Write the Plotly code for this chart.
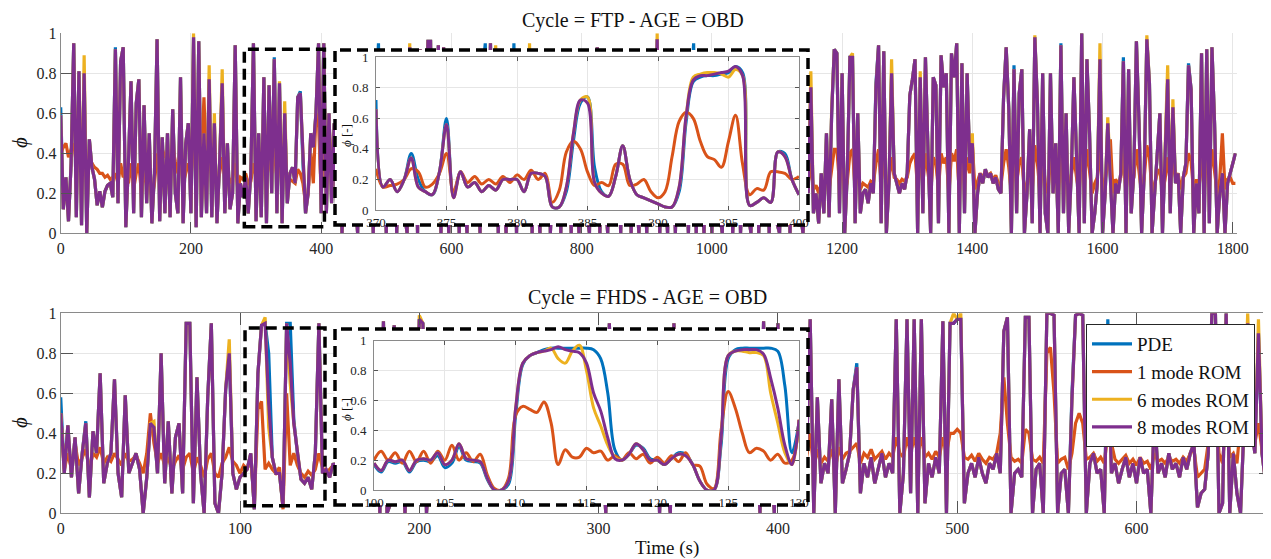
import numpy as np
import plotly.graph_objects as go

# The page places the figure 8 px in from the top-left corner, so the figure is
# laid out in screen pixels minus that offset.
SCREEN_W, SCREEN_H, OFF = 1271, 559, 8
W, H = SCREEN_W - OFF, SCREEN_H - OFF
FONT = "Liberation Serif"
C_PDE, C_1, C_6, C_8 = "#0072BD", "#D95319", "#EDB120", "#7E2F8E"
names = ["PDE", "1 mode ROM", "6 modes ROM", "8 modes ROM"]
colors = [C_PDE, C_1, C_6, C_8]

# ---------------- FTP cycle, phi in percent, sampled every 4 s ----------------
ftp_step = 4
ftp_pde = [
63,12,28,6,35,95,8,81,4,80,0,47,33,27,14,21,13,21,24,25,18,93,15,86,93,
3,35,76,10,65,77,8,64,15,50,5,30,97,6,48,10,50,8,62,20,10,78,5,45,55,
10,98,3,96,8,50,10,77,8,55,5,35,75,10,45,12,20,94,5,25,18,28,10,30,95,
6,50,8,78,5,74,20,88,10,75,5,60,15,30,33,25,68,71,35,10,20,50,43,60,95,
10,95,10,60,15,55,10,70,0,40,85,5,60,20,0,75,30,90,5,45,0,65,95,10,50,
0,80,25,60,0,40,88,10,0,93,20,70,0,92,15,50,96,96,5,60,94,0,93,30,0,
70,25,85,0,50,20,0,65,90,10,40,0,80,95,20,95,5,92,0,55,25,0,70,30,95,
0,60,20,85,5,92,0,45,20,0,75,35,90,0,30,20,60,0,80,15,50,0,88,25,0,
40,70,10,0,85,30,93,0,55,20,0,75,90,5,45,0,65,25,85,0,40,20,0,70,30,
0,80,92,10,97,0,50,25,0,85,40,0,60,90,5,35,0,70,95,0,45,20,0,80,30,
0,65,88,10,0,50,25,85,0,40,70,0,30,90,10,0,55,80,0,35,20,75,0,45,90,
5,0,60,30,85,0,40,22,70,10,0,35,20,73,10,20,5,30,10,50,8,60,92,90,10,
80,0,30,88,88,5,60,10,20,22,15,25,20,75,94,5,91,0,25,80,30,25,20,25,22,
30,69,77,87,0,78,10,88,40,0,78,74,5,89,73,80,0,90,78,95,0,85,10,80,35,
45,0,20,30,25,32,28,30,25,28,22,20,68,93,62,0,84,10,70,82,0,20,52,5,98,
65,0,80,10,0,80,20,45,0,95,10,60,0,30,78,40,0,100,5,87,50,0,10,25,87,
0,20,55,30,0,25,20,30,88,0,82,10,30,96,55,0,30,97,75,0,20,35,60,0,38,
77,10,63,25,30,0,28,35,85,72,0,25,10,90,0,92,5,93,55,0,20,30,0,25,30,
35,40]
ftp_1mode = [
40,43,45,38,42,45,35,44,30,40,25,38,35,33,32,30,30,28,29,27,28,30,25,35,28,
30,25,35,22,30,35,20,30,25,28,18,25,40,30,42,38,40,35,43,36,30,38,25,30,35,
28,45,40,50,35,68,30,40,28,35,25,30,38,28,30,25,28,35,22,28,27,30,25,26,35,
28,30,25,40,27,38,30,42,28,38,25,35,25,27,26,25,32,30,25,15,20,40,25,60,55,
20,45,25,55,30,40,25,35,20,30,40,22,32,25,20,35,28,42,22,30,20,33,45,25,30,
20,38,28,32,20,28,42,25,20,45,28,35,20,44,25,30,45,45,22,32,44,20,43,28,20,
35,28,40,20,30,25,20,33,42,25,28,20,38,45,27,45,22,43,20,30,27,20,35,28,45,
20,32,25,40,22,44,20,28,25,20,36,28,42,20,28,25,32,20,38,25,30,20,42,28,20,
28,35,22,20,40,30,44,20,32,25,20,36,42,22,28,20,33,27,40,20,28,25,20,35,28,
20,38,44,25,48,20,30,27,20,40,28,20,32,42,22,27,20,35,45,20,28,25,20,38,28,
20,33,42,25,20,30,27,40,20,28,35,20,27,42,25,20,30,38,20,27,25,36,20,28,42,
25,20,32,28,40,20,27,25,35,22,20,25,25,35,22,24,20,25,22,30,22,32,42,42,25,
38,20,26,40,42,22,32,22,25,24,23,26,25,35,42,25,42,20,27,38,28,27,25,27,26,
28,35,38,40,22,38,25,40,30,20,38,35,22,40,35,38,20,40,36,42,20,40,25,38,30,
45,22,26,30,28,31,29,30,27,29,25,24,35,42,33,20,38,25,35,38,20,25,30,22,44,
35,20,38,25,20,38,27,30,20,42,25,32,20,28,38,28,20,45,25,42,30,20,25,28,42,
22,27,35,47,20,27,25,28,40,20,38,25,28,42,32,20,28,44,38,20,25,30,32,20,27,
38,25,35,28,30,22,28,30,40,36,20,27,22,42,20,42,25,42,32,20,27,50,22,27,28,
25,25]
ftp_6modes = [
59,12,28,6,35,95,8,81,4,89,0,47,33,27,14,21,13,21,24,25,18,92,15,86,93,
3,35,76,10,65,77,8,64,15,50,5,30,97,6,48,10,50,8,62,20,10,78,5,45,55,
10,100,3,96,8,50,10,84,8,60,5,35,82,10,45,12,20,94,5,25,18,28,10,30,95,
6,50,8,78,5,74,20,87,10,76,5,66,15,30,33,25,68,70,35,10,20,50,43,60,95,
10,95,10,60,15,55,10,70,0,40,85,5,60,20,0,75,30,90,5,45,0,65,90,10,50,
0,80,25,60,0,40,88,10,0,95,20,70,0,92,15,50,96,96,5,60,94,0,93,30,0,
70,25,85,0,50,20,0,65,90,10,40,0,80,90,20,95,5,94,0,55,25,0,70,30,88,
0,60,20,85,5,95,0,45,20,0,75,35,90,0,30,20,60,0,80,15,50,0,88,25,0,
40,70,10,0,85,30,93,0,55,20,0,75,90,5,45,0,65,25,85,0,40,20,0,70,30,
0,80,92,10,100,0,50,25,0,85,40,0,60,90,5,35,0,70,88,0,45,20,0,80,30,
0,65,88,10,0,50,25,85,0,40,70,0,30,90,10,0,55,80,0,35,20,75,0,45,90,
5,0,60,30,85,0,40,22,70,10,0,35,20,81,10,20,5,30,10,50,8,62,92,90,10,
80,0,30,88,90,5,60,10,20,22,15,25,20,73,94,5,91,0,25,87,30,25,20,25,22,
30,69,77,87,0,81,10,88,40,0,78,74,5,89,73,80,0,90,78,95,0,85,10,80,35,
50,0,20,30,25,32,28,30,25,28,22,20,68,93,62,0,82,10,70,82,0,20,52,5,99,
65,0,80,10,0,80,20,45,0,94,10,60,0,30,78,40,0,100,5,87,50,0,10,25,95,
0,20,58,30,0,25,20,30,86,0,82,10,30,96,55,0,30,99,75,0,20,35,60,0,38,
84,10,67,25,30,0,28,35,84,72,0,25,10,90,0,92,5,93,55,0,20,30,0,25,30,
35,40]
ftp_8modes = [
59,12,28,6,35,95,8,81,4,80,0,47,33,27,14,21,13,21,24,25,18,92,15,86,93,
3,35,76,10,65,77,8,64,15,50,5,30,97,6,48,10,50,8,62,20,10,78,5,45,55,
10,98,3,96,8,50,10,77,8,55,5,35,75,10,45,12,20,94,5,25,18,28,10,30,95,
6,50,8,78,5,74,20,87,10,75,5,60,15,30,33,25,68,70,35,10,20,50,43,60,95,
10,95,10,60,15,55,10,70,0,40,85,5,60,20,0,75,30,90,5,45,0,65,90,10,50,
0,80,25,60,0,40,88,10,0,93,20,70,0,92,15,50,96,96,5,60,94,0,93,30,0,
70,25,85,0,50,20,0,65,90,10,40,0,80,90,20,95,5,92,0,55,25,0,70,30,88,
0,60,20,85,5,92,0,45,20,0,75,35,90,0,30,20,60,0,80,15,50,0,88,25,0,
40,70,10,0,85,30,93,0,55,20,0,75,90,5,45,0,65,25,85,0,40,20,0,70,30,
0,80,92,10,97,0,50,25,0,85,40,0,60,90,5,35,0,70,88,0,45,20,0,80,30,
0,65,88,10,0,50,25,85,0,40,70,0,30,90,10,0,55,80,0,35,20,75,0,45,90,
5,0,60,30,85,0,40,22,70,10,0,35,20,73,10,20,5,30,10,50,8,60,92,90,10,
80,0,30,88,88,5,60,10,20,22,15,25,20,73,94,5,91,0,25,80,30,25,20,25,22,
30,69,77,87,0,78,10,88,40,0,78,74,5,89,73,80,0,90,78,95,0,85,10,80,35,
45,0,20,30,25,32,28,30,25,28,22,20,68,93,62,0,82,10,70,82,0,20,52,5,98,
65,0,80,10,0,80,20,45,0,94,10,60,0,30,78,40,0,100,5,87,50,0,10,25,87,
0,20,55,30,0,25,20,30,86,0,82,10,30,96,55,0,30,97,75,0,20,35,60,0,38,
77,10,63,25,30,0,28,35,84,72,0,25,10,90,0,92,5,93,55,0,20,30,0,25,30,
35,40]

# FTP zoom 370-400 s, every 0.5 s
ftp_zoom_start, ftp_zoom_step = 370, 0.5
ftpz_pde = [72,15,20,12,20,37,20,12,10,25,60,10,25,15,18,12,16,13,20,20,20,12,24,24,22,2,2,12,45,70,
            74,28,12,9,22,42,20,10,8,6,4,2,2,12,58,84,87,88,88,89,90,94,90,3,5,8,5,38,37,20,10]
ftpz_1mode = [27,15,16,17,20,27,25,15,17,24,37,12,25,18,22,17,20,17,22,18,23,20,26,20,24,5,13,38,45,40,
              25,16,18,16,30,30,16,17,20,12,8,12,35,58,64,60,45,35,33,28,45,62,30,10,14,13,25,25,24,20,22]
ftpz_6modes = [66,15,20,12,20,34,15,12,10,25,56,8,25,15,18,12,16,13,20,20,20,12,24,24,22,2,2,15,50,72,
               74,18,11,9,22,42,20,10,8,6,4,2,2,15,62,87,89,90,90,89,87,92,88,3,5,8,5,38,35,20,10]
ftpz_8modes = [66,15,20,12,20,34,15,12,10,25,56,8,25,15,18,12,16,13,20,20,20,12,24,24,22,2,2,15,50,72,
               70,18,11,9,22,42,20,10,8,6,4,2,2,15,62,85,88,88,89,90,91,94,88,3,5,8,5,38,35,20,10]

# ---------------- FHDS cycle, phi in percent, sampled every 2 s ----------------
fhds_step = 2
fhds_pde = [
58,20,44,18,38,10,30,46,8,41,30,70,15,25,30,67,20,8,59,20,25,30,22,0,18,
45,43,20,80,15,46,10,38,45,10,95,95,5,68,20,0,58,95,5,0,20,62,80,20,12,
18,20,22,30,2,70,94,95,80,28,20,20,3,95,95,47,30,17,15,18,12,30,95,20,22,
18,25,22,30,15,40,20,55,10,25,60,15,30,70,0,96,0,5,94,20,45,0,30,60,20,
97,95,0,25,20,35,70,15,22,85,10,25,20,50,18,22,90,88,15,20,25,18,22,60,10,
25,20,23,75,20,18,22,25,40,15,20,80,90,20,15,25,20,22,55,10,20,25,18,70,20,
25,30,0,95,20,22,25,18,40,20,24,65,15,22,20,25,60,0,50,15,0,95,20,22,18,
25,20,45,15,22,80,85,15,20,25,18,22,30,20,70,10,25,20,22,40,0,96,20,30,0,
95,20,25,18,22,40,15,25,30,97,0,58,15,25,20,57,0,67,15,22,30,62,75,10,25,
18,28,15,22,30,18,25,20,97,0,20,97,10,97,0,97,5,25,18,28,20,96,0,95,95,
97,97,5,20,25,18,28,20,15,25,22,30,20,91,98,0,20,22,18,98,98,0,22,25,0,
100,100,99,0,20,22,0,60,99,100,99,0,25,30,20,22,0,97,20,25,15,22,28,18,25,
15,28,20,22,0,50,20,25,18,30,22,25,18,28,22,30,35,3,10,12,30,100,100,0,5,
100,0,30,10,0,45,95,45,30,90,30,15,20]
fhds_1mode = [
50,22,30,22,35,24,28,32,22,30,28,33,25,28,26,30,27,24,30,26,27,29,25,20,30,
50,35,25,30,24,28,22,26,29,22,28,30,20,28,24,18,27,30,20,18,25,28,33,26,24,
20,24,22,28,5,52,56,22,25,22,20,23,2,60,24,30,24,20,18,21,19,22,30,23,20,
22,24,25,27,22,30,25,33,22,26,32,24,27,35,20,40,25,22,40,26,30,20,27,32,25,
45,42,20,26,24,28,35,23,25,38,22,26,24,30,23,25,42,40,24,25,27,23,25,32,22,
27,24,26,36,24,23,25,27,29,22,25,38,42,25,22,27,24,25,31,22,25,27,23,34,24,
27,28,20,42,25,24,27,23,28,24,26,33,23,25,24,27,32,20,30,23,20,42,26,25,23,
27,24,29,22,25,38,40,24,25,27,23,25,28,24,34,22,27,24,25,29,20,42,26,28,20,
42,25,27,23,25,29,22,26,28,40,22,32,25,28,26,32,22,33,27,30,31,33,35,25,30,
28,32,27,29,31,27,30,28,38,30,28,38,30,38,30,38,28,30,27,31,28,38,30,40,40,
42,40,28,27,29,26,30,27,25,28,27,30,40,68,45,28,26,27,25,42,40,27,26,28,25,
80,83,60,25,27,28,22,30,45,50,45,27,28,30,26,28,25,40,35,27,25,27,29,25,27,
24,28,25,26,22,30,26,27,25,28,26,27,25,28,26,30,32,18,20,22,35,55,58,30,25,
50,28,30,25,45,60,55,40,35,45,30,18,22]
fhds_6modes = [
50,20,44,18,38,10,30,45,8,41,30,70,15,25,30,67,20,8,59,20,25,30,22,0,18,
45,46,20,80,15,46,10,38,45,10,95,95,5,68,20,0,58,95,5,0,20,62,87,20,12,
18,20,22,30,2,70,94,98,43,28,20,20,3,95,65,45,30,17,15,18,12,30,95,20,22,
18,25,22,30,15,40,20,55,10,25,60,15,30,70,0,96,0,5,94,20,45,0,30,60,20,
99,95,0,25,20,35,70,15,22,85,10,25,20,50,18,22,90,88,15,20,25,18,22,60,10,
25,20,23,75,20,18,22,25,40,15,20,80,90,20,15,25,20,22,55,10,20,25,18,70,20,
25,30,0,95,20,22,25,18,40,20,24,65,15,22,20,25,60,0,50,15,0,95,20,22,18,
25,20,45,15,22,80,85,15,20,25,18,22,30,20,70,10,25,20,22,40,0,96,20,30,0,
95,20,25,18,22,40,15,25,30,97,0,58,15,25,20,57,0,67,15,22,30,62,73,10,25,
18,28,15,22,30,18,25,20,97,0,20,97,10,97,0,97,5,25,18,28,20,96,0,95,100,
97,100,5,20,25,18,28,20,15,25,22,30,20,91,98,0,20,22,18,98,98,0,22,25,0,
100,100,99,0,20,22,0,57,99,100,99,0,25,30,20,22,0,88,20,25,15,22,28,18,25,
15,28,20,22,0,50,20,25,18,30,22,25,18,28,22,30,35,3,10,12,30,100,100,0,5,
100,0,30,10,0,45,100,45,30,97,30,15,20]
fhds_8modes = [
50,20,44,18,38,10,30,45,8,41,30,70,15,25,30,67,20,8,59,20,25,30,22,0,18,
45,43,20,80,15,46,10,38,45,10,95,95,5,68,20,0,58,95,5,0,20,62,80,20,12,
18,20,22,30,2,70,94,95,55,28,20,20,3,95,75,45,30,17,15,18,12,30,95,20,22,
18,25,22,30,15,40,20,55,10,25,60,15,30,70,0,96,0,5,94,20,45,0,30,60,20,
97,95,0,25,20,35,70,15,22,85,10,25,20,50,18,22,90,88,15,20,25,18,22,60,10,
25,20,23,75,20,18,22,25,40,15,20,80,90,20,15,25,20,22,55,10,20,25,18,70,20,
25,30,0,95,20,22,25,18,40,20,24,65,15,22,20,25,60,0,50,15,0,95,20,22,18,
25,20,45,15,22,80,85,15,20,25,18,22,30,20,70,10,25,20,22,40,0,96,20,30,0,
95,20,25,18,22,40,15,25,30,97,0,58,15,25,20,57,0,67,15,22,30,62,73,10,25,
18,28,15,22,30,18,25,20,97,0,20,97,10,97,0,97,5,25,18,28,20,96,0,95,95,
97,97,5,20,25,18,28,20,15,25,22,30,20,91,98,0,20,22,18,98,98,0,22,25,0,
100,100,99,0,20,22,0,57,99,100,99,0,25,30,20,22,0,88,20,25,15,22,28,18,25,
15,28,20,22,0,50,20,25,18,30,22,25,18,28,22,30,35,3,10,12,30,100,100,0,5,
100,0,30,10,0,45,95,45,30,90,30,15,20]

# FHDS zoom 100-130 s, every 0.5 s
fhds_zoom_start, fhds_zoom_step = 100, 0.5
fhdsz_pde = [17,12,19,18,19,12,19,20,19,23,15,18,29,20,19,18,7,0,0,4,50,84,90,92,94,95,95,95,95,95,
             95,94,88,65,27,20,24,30,28,21,20,17,21,25,24,17,6,0,0,30,88,94,95,95,95,95,95,93,70,25,45]
fhdsz_1mode = [20,26,20,25,18,26,19,26,18,26,20,30,20,25,19,24,10,1,0,8,50,56,54,52,59,45,17,27,22,22,
               28,25,26,20,23,20,25,21,24,18,22,18,23,19,25,17,16,4,1,40,66,55,38,25,28,26,20,24,18,20,47]
fhdsz_6modes = [18,13,20,19,20,13,20,21,20,25,17,20,31,21,20,19,8,0,0,6,55,85,90,92,93,95,88,85,93,97,
                80,55,43,30,22,20,24,31,27,20,20,17,21,24,23,17,6,0,0,35,90,93,93,92,92,90,65,45,25,17,47]
fhdsz_8modes = [18,13,20,19,20,13,20,21,20,25,17,20,31,21,20,19,8,0,0,6,55,85,90,92,93,94,96,94,93,92,
                85,65,53,35,21,20,24,31,27,20,20,17,21,24,23,17,6,0,0,35,90,93,94,94,94,91,75,55,30,17,47]

for arr in (ftp_pde, ftp_1mode, ftp_6modes, ftp_8modes):
    assert len(arr) == 452, len(arr)
for arr in (fhds_pde, fhds_1mode, fhds_6modes, fhds_8modes):
    assert len(arr) == 338, len(arr)
for arr in (ftpz_pde, ftpz_1mode, ftpz_6modes, ftpz_8modes, fhdsz_pde, fhdsz_1mode, fhdsz_6modes, fhdsz_8modes):
    assert len(arr) == 61, len(arr)

ftp_ticks = list(range(0, 1801, 200))
fhds_ticks = list(range(0, 601, 100))
ftpz_ticks = list(range(370, 401, 5))
fhdsz_ticks = list(range(100, 131, 5))
phi_ticks = [0, 0.2, 0.4, 0.6, 0.8, 1]


def px(v):
    """screen x pixel -> paper fraction"""
    return (v - OFF) / W


def py(v):
    """screen y pixel -> paper fraction"""
    return 1 - (v - OFF) / H


fig = go.Figure()


def add_group(t0, step, arrays, xa, ya, width, shape="linear", legend=False):
    for name, color, arr in zip(names, colors, arrays):
        t = t0 + step * np.arange(len(arr))
        fig.add_trace(go.Scatter(
            x=t, y=np.asarray(arr) / 100.0, mode="lines", name=name,
            line=dict(color=color, width=width, shape=shape),
            showlegend=legend, xaxis=xa, yaxis=ya, hoverinfo="skip"))


add_group(0, ftp_step, [ftp_pde, ftp_1mode, ftp_6modes, ftp_8modes], "x", "y", 3.2)
add_group(0, fhds_step, [fhds_pde, fhds_1mode, fhds_6modes, fhds_8modes], "x2", "y2", 3.2, legend=True)
# white backing subplots for the magnified panels
for xa, ya in (("x3", "y3"), ("x4", "y4")):
    fig.add_trace(go.Scatter(x=[], y=[], xaxis=xa, yaxis=ya, showlegend=False, hoverinfo="skip"))
add_group(ftp_zoom_start, ftp_zoom_step, [ftpz_pde, ftpz_1mode, ftpz_6modes, ftpz_8modes], "x5", "y5", 3, shape="spline")
add_group(fhds_zoom_start, fhds_zoom_step, [fhdsz_pde, fhdsz_1mode, fhdsz_6modes, fhdsz_8modes], "x6", "y6", 3, shape="spline")

tickfont = dict(family=FONT, size=16, color="#262626")
small_tickfont = dict(family=FONT, size=13, color="#262626")
base = dict(showgrid=True, gridcolor="#e6e6e6", gridwidth=1, zeroline=False,
            showline=True, linecolor="#8a8a8a", linewidth=1, ticks="inside",
            tickcolor="#555555", tickwidth=1, automargin=False)

top_y = [py(233.3), py(33.3)]
bot_y = [py(513.3), py(313.3)]

fig.update_layout(
    template="none",
    width=W, height=H, margin=dict(l=0, r=0, t=0, b=0, pad=0, autoexpand=False),
    paper_bgcolor="white", plot_bgcolor="white",
    xaxis=dict(base, domain=[px(60.7), px(1236.7)], range=[0, 1806], tickvals=ftp_ticks,
               ticklen=11, tickfont=tickfont, anchor="y"),
    yaxis=dict(base, domain=top_y, range=[0, 1], tickvals=phi_ticks, ticklen=11,
               tickfont=tickfont, anchor="x"),
    xaxis2=dict(base, domain=[px(60.7), 1.0], range=[0, 675], tickvals=fhds_ticks,
                ticklen=12, tickfont=tickfont, anchor="y2", mirror="ticks"),
    yaxis2=dict(base, domain=bot_y, range=[0, 1], tickvals=phi_ticks, ticklen=12,
                tickfont=tickfont, anchor="x2", mirror="ticks"),
    xaxis3=dict(domain=[px(335), px(808)], range=[0, 1], visible=False, anchor="y3", automargin=False),
    yaxis3=dict(domain=[py(225), py(50)], range=[0, 1], visible=False, anchor="x3", automargin=False),
    xaxis4=dict(domain=[px(335), px(808)], range=[0, 1], visible=False, anchor="y4", automargin=False),
    yaxis4=dict(domain=[py(505), py(329)], range=[0, 1], visible=False, anchor="x4", automargin=False),
    xaxis5=dict(base, domain=[px(376), px(799)], range=[370, 400], tickvals=ftpz_ticks,
                ticklen=4, tickfont=small_tickfont, anchor="y5", mirror="ticks",
                ticklabelstandoff=0),
    yaxis5=dict(base, domain=[py(210), py(57.3)], range=[0, 1], tickvals=phi_ticks,
                ticklen=4, tickfont=small_tickfont, anchor="x5", mirror="ticks",
                ticklabelstandoff=4),
    xaxis6=dict(base, domain=[px(374), px(799)], range=[100, 130], tickvals=fhdsz_ticks,
                ticklen=4, tickfont=small_tickfont, anchor="y6", mirror="ticks",
                ticklabelstandoff=0),
    yaxis6=dict(base, domain=[py(490), py(340.7)], range=[0, 1], tickvals=phi_ticks,
                ticklen=4, tickfont=small_tickfont, anchor="x6", mirror="ticks",
                ticklabelstandoff=4),
    legend=dict(x=px(1086), y=py(324), xanchor="left", yanchor="top",
                bgcolor="white", bordercolor="#262626", borderwidth=1,
                font=dict(family=FONT, size=19, color="#111111"),
                itemwidth=40, tracegroupgap=0),
    showlegend=True,
)

dash = "11px,6px"
shapes = [
    dict(type="rect", xref="paper", yref="paper", x0=px(335), x1=px(808), y0=py(225), y1=py(50),
         line=dict(color="black", width=3.5, dash=dash), layer="above"),
    dict(type="rect", xref="paper", yref="paper", x0=px(335), x1=px(808), y0=py(505), y1=py(329),
         line=dict(color="black", width=3.5, dash=dash), layer="above"),
    dict(type="rect", xref="x", yref="y", x0=282, x1=405, y0=0.033, y1=0.92,
         line=dict(color="black", width=3.5, dash=dash), layer="above"),
    dict(type="rect", xref="x2", yref="y2", x0=102.8, x1=147.4, y0=0.038, y1=0.927,
         line=dict(color="black", width=3.5, dash=dash), layer="above"),
]
fig.update_layout(shapes=shapes)

ann = [
    dict(text="Cycle = FTP - AGE = OBD", x=px(632.5), y=py(20), font=dict(size=20)),
    dict(text="Cycle = FHDS - AGE = OBD", x=px(648), y=py(297), font=dict(size=20)),
    dict(text="Time (s)", x=px(667), y=py(548), font=dict(size=19)),
    dict(text="<i>ϕ</i>", x=px(20), y=py(143), font=dict(size=21), textangle=-90),
    dict(text="<i>ϕ</i>", x=px(20), y=py(423), font=dict(size=21), textangle=-90),
    dict(text="<i>ϕ</i> [-]", x=px(346), y=py(136), font=dict(size=13), textangle=-90),
    dict(text="<i>ϕ</i> [-]", x=px(346), y=py(410), font=dict(size=13), textangle=-90),
]
for a in ann:
    f = dict(family=FONT, color="#111111")
    f.update(a.pop("font"))
    fig.add_annotation(xref="paper", yref="paper", showarrow=False, xanchor="center",
                       yanchor="middle", font=f, **a)

fig.write_html("out.html")
